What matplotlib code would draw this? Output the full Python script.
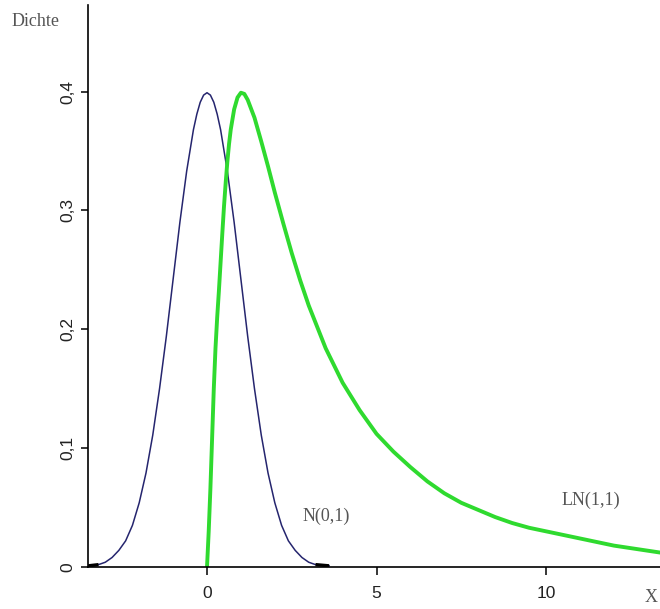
import matplotlib
matplotlib.use("Agg")
import matplotlib.pyplot as plt
import numpy as np

# --- data ---
normal_x = [-3.5, -3.2, -3.0, -2.8, -2.6, -2.4, -2.2, -2.0, -1.8, -1.6, -1.4, -1.2, -1.0,
            -0.8, -0.6, -0.4, -0.3, -0.2, -0.1, 0.0, 0.1, 0.2, 0.3, 0.4, 0.6, 0.8, 1.0,
            1.2, 1.4, 1.6, 1.8, 2.0, 2.2, 2.4, 2.6, 2.8, 3.0, 3.2, 3.6]
normal_y = [0.001, 0.002, 0.004, 0.008, 0.014, 0.022, 0.035, 0.054, 0.079, 0.111, 0.150,
            0.194, 0.242, 0.290, 0.333, 0.368, 0.381, 0.391, 0.397, 0.399, 0.397, 0.391,
            0.381, 0.368, 0.333, 0.290, 0.242, 0.194, 0.150, 0.111, 0.079, 0.054, 0.035,
            0.022, 0.014, 0.008, 0.004, 0.002, 0.001]

ln_x = [0.0, 0.05, 0.1, 0.15, 0.2, 0.25, 0.3, 0.35, 0.4, 0.45, 0.5, 0.55, 0.6, 0.65, 0.7,
        0.8, 0.9, 1.0, 1.1, 1.2, 1.4, 1.6, 1.8, 2.0, 2.25, 2.5, 2.75, 3.0, 3.5, 4.0, 4.5,
        5.0, 5.5, 6.0, 6.5, 7.0, 7.5, 8.0, 8.5, 9.0, 9.5, 10.0, 11.0, 12.0, 13.4]
ln_y = [0.0, 0.030, 0.066, 0.108, 0.150, 0.184, 0.210, 0.232, 0.256, 0.280, 0.303, 0.323,
        0.341, 0.356, 0.368, 0.385, 0.395, 0.399, 0.398, 0.393, 0.378, 0.358, 0.337, 0.315,
        0.289, 0.264, 0.241, 0.220, 0.184, 0.155, 0.132, 0.112, 0.097, 0.084, 0.072, 0.062,
        0.054, 0.048, 0.042, 0.037, 0.033, 0.030, 0.024, 0.018, 0.012]

x_ticks = [0, 5, 10]
x_ticklabels = ["0", "5", "10"]
y_ticks = [0.0, 0.1, 0.2, 0.3, 0.4]
y_ticklabels = ["0", "0,1", "0,2", "0,3", "0,4"]

fig = plt.figure(figsize=(6.6, 6.09), dpi=100)
ax = fig.add_axes([88 / 660, 42 / 609, 572 / 660, 562 / 609])
ax.set_xlim(-3.51, 13.36)
ax.set_ylim(0, 0.4728)

navy = "#25256e"
green = "#2fda2f"

ax.plot(normal_x, normal_y, color=navy, lw=1.1, solid_joinstyle="round")
nx = np.array(normal_x)
ny = np.array(normal_y)
for side in (nx < 0, nx > 0):
    m = side & (ny <= 0.0021)
    ax.plot(nx[m], ny[m], color="black", lw=2.4, solid_capstyle="butt")
ax.plot(ln_x, ln_y, color=green, lw=2.8, solid_joinstyle="round")

for s in ("top", "right"):
    ax.spines[s].set_visible(False)
for s in ("left", "bottom"):
    ax.spines[s].set_linewidth(1.2)
    ax.spines[s].set_color("black")

ax.set_xticks(x_ticks)
ax.set_xticklabels(x_ticklabels, fontfamily="Liberation Sans", fontsize=12.5, color="#222222")
ax.set_yticks(y_ticks)
ax.set_yticklabels(y_ticklabels, fontfamily="Liberation Sans", fontsize=12.5, color="#222222",
                   rotation=90, va="center")
ax.tick_params(axis="x", direction="out", length=6, width=1.1, pad=8)
ax.tick_params(axis="y", direction="out", length=5, width=1.1, pad=4)

serif = "Liberation Serif"
fig.text(12 / 660, 1 - 21 / 609, "Dichte", fontfamily=serif, fontsize=13, color="#555555",
         ha="left", va="center")
fig.text(303 / 660, 1 - 516 / 609, "N(0,1)", fontfamily=serif, fontsize=13, color="#555555",
         ha="left", va="center")
fig.text(562 / 660, 1 - 500 / 609, "LN(1,1)", fontfamily=serif, fontsize=13, color="#555555",
         ha="left", va="center")
fig.text(645 / 660, 1 - 597 / 609, "X", fontfamily=serif, fontsize=13, color="#555555",
         ha="left", va="center")

fig.savefig("out.png", dpi=100)
